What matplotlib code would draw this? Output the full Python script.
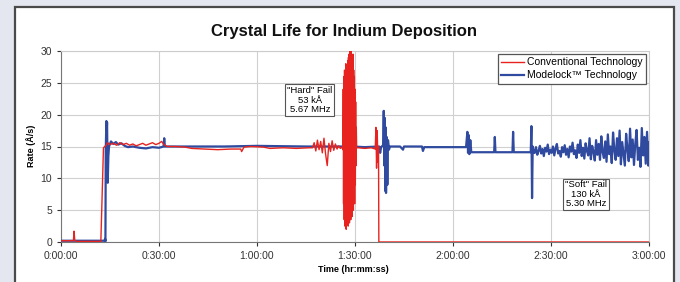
import matplotlib
matplotlib.use('Agg')
import matplotlib.pyplot as plt
from matplotlib.patches import Rectangle
from matplotlib.ticker import FuncFormatter

plt.rcParams['font.family'] = ['Liberation Sans', 'DejaVu Sans']

# time in minutes, rate in A/s
red_t = [0, 3.8, 4.0, 4.2, 4.6, 12.2, 13.0, 13.8, 14.3, 15.0, 16.0, 17.0, 18.0, 19.0,
         20.0, 21.0, 22.0, 23.0, 24.0, 25.0, 26.0, 27.0, 28.0, 29.0, 30.0, 30.8, 31.5,
         32.5, 35, 38, 40, 44, 48, 52, 55, 55.3, 56, 58, 62, 64, 68, 72, 76,
         77.0, 77.5, 78.0, 78.5, 79.0, 79.5, 80.0, 80.5, 81.0, 81.5, 82.0, 82.5, 83.0,
         83.5, 84.0, 84.5, 85.0, 85.5, 86.0,
         86.3, 86.4, 86.5, 86.6, 86.7, 86.8, 86.9, 87.0, 87.1, 87.2, 87.3, 87.4, 87.5,
         87.6, 87.7, 87.8, 87.9, 88.0, 88.1, 88.2, 88.3, 88.4, 88.5, 88.6, 88.7, 88.8,
         88.9, 89.0, 89.1, 89.2, 89.3, 89.4, 89.5, 89.6, 89.7, 89.8, 89.9, 90.0, 90.1,
         90.2, 90.3, 90.4, 90.5,
         91, 93, 95, 96.2, 96.4, 96.6, 96.8, 97.0, 97.2, 97.3, 180]
red_v = [0.2, 0.2, 1.7, 0.3, 0.1, 0.1, 14.8, 15.2, 15.6, 15.3, 15.5, 15.2, 15.6, 15.3,
         15.5, 15.2, 15.4, 15.1, 15.3, 15.5, 15.2, 15.4, 15.6, 15.3, 15.5, 15.8, 15.3,
         15.0, 15.0, 14.9, 14.7, 14.6, 14.5, 14.6, 14.6, 14.2, 14.9, 15.0, 14.9, 14.7, 14.8, 14.7, 14.8,
         14.8, 15.6, 14.3, 16.0, 14.5, 15.8, 14.0, 16.3, 13.8, 12.0, 15.5, 14.2, 15.9,
         14.4, 15.4, 14.6, 15.1, 14.7, 14.9,
         14.5, 24, 6, 26, 3.5, 27, 2.5, 25, 4, 28, 2.0, 26, 5,
         27.5, 3, 28.5, 2.5, 29, 4.5, 29.5, 3, 30, 5, 29.8, 3.5, 30,
         6, 29, 4, 28, 7, 29.5, 5, 27, 8, 26, 6, 24, 9,
         22, 12, 18, 14.8,
         14.8, 14.7, 14.8, 14.6, 18.0, 11.6, 17.5, 12.5, 15.0, 0.0, 0.0]

blue_t = [0, 13.3, 13.5, 13.6, 13.7, 13.9, 14.0, 14.1, 14.2, 14.3, 14.5, 14.7, 15.3,
          16.0, 16.8, 17.5, 18.5, 19.5, 20.5, 22, 24, 26, 28, 30, 31.4, 31.6, 31.8,
          35, 50, 60, 75, 88.3, 88.5, 88.7, 89, 93, 97.4, 97.7, 98.0, 98.6, 98.8,
          99.0, 99.1, 99.3, 99.4, 99.5, 99.7, 99.9, 100.1, 100.4, 100.7, 103.8, 104.7,
          105.0, 110.5, 110.8, 111.2, 118, 124.0, 124.4, 124.6, 124.8, 125.0, 125.3,
          125.6, 132.6, 132.8, 133.0, 138.2, 138.4, 138.6, 143.8, 144.0, 144.2, 144.4,
          144.7,
          145.0, 145.4, 145.8, 146.2, 146.6, 147.0, 147.4, 147.8, 148.2, 148.6,
          149.0, 149.4, 149.8, 150.2, 150.6, 151.0, 151.4, 151.8, 152.2, 152.6,
          153.0, 153.4, 153.8, 154.2, 154.6, 155.0, 155.4, 155.8, 156.2, 156.6,
          157.0, 157.4, 157.8, 158.2, 158.6, 159.0, 159.4, 159.8, 160.2, 160.6,
          161.0, 161.4, 161.8, 162.2, 162.6, 163.0, 163.4, 163.8, 164.2, 164.6,
          165.0, 165.4, 165.8, 166.2, 166.6, 167.0, 167.4, 167.8, 168.2, 168.6,
          169.0, 169.4, 169.8, 170.2, 170.6, 171.0, 171.4, 171.8, 172.2, 172.6,
          173.0, 173.4, 173.8, 174.2, 174.6, 175.0, 175.4, 175.8, 176.2, 176.6,
          177.0, 177.4, 177.8, 178.2, 178.6, 179.0, 179.4, 179.8, 180.0]
blue_v = [0.2, 0.2, 0.5, 0.1, 14.5, 19.0, 17.5, 18.8, 14.0, 9.3, 13.5, 15.0, 15.8,
          15.4, 15.7, 15.3, 15.5, 15.1, 14.9, 15.0, 14.8, 14.7, 14.9, 14.8, 15.0, 16.3, 15.0,
          15.0, 15.0, 15.1, 15.0, 15.0, 14.3, 15.2, 15.0, 14.9, 15.0, 14.0, 14.9, 15.2, 20.6,
          12.0, 19.5, 8.0, 18.0, 7.7, 16.5, 9.0, 16.0, 14.5, 15.0, 15.0, 14.5,
          15.0, 15.0, 14.3, 14.9, 14.9, 14.9, 17.3, 14.0, 16.8, 13.8, 16.0,
          14.1, 14.1, 16.5, 14.1, 14.1, 17.3, 14.1, 14.1, 18.2, 6.9, 15.0,
          14.0,
          14.0, 14.9, 13.7, 14.3, 15.1, 13.9, 14.6, 13.5, 14.8, 14.2,
          15.3, 13.8, 14.5, 14.0, 15.0, 13.6, 14.7, 15.4, 13.9, 14.3,
          13.4, 14.9, 14.1, 15.2, 13.7, 14.6, 13.3, 15.0, 14.2, 15.6,
          13.8, 14.4, 13.2, 15.3, 14.0, 16.0, 13.5, 14.8, 13.1, 15.5,
          14.3, 13.6, 16.3, 13.0, 15.1, 14.2, 12.8, 16.0, 13.7, 15.4,
          12.9, 16.6, 14.1, 13.2, 15.8, 12.6, 16.9, 13.8, 15.0, 12.4,
          17.2, 14.4, 12.9, 16.3, 13.5, 17.5, 12.2, 15.7, 13.9, 12.0,
          17.0, 14.6, 12.7, 17.8, 13.3, 16.1, 12.1, 15.4, 17.6, 12.9,
          14.8, 11.8, 17.9, 13.6, 16.5, 12.3, 17.3, 12.0, 15.6]

x_ticks = [0, 30, 60, 90, 120, 150, 180]
y_ticks = [0, 5, 10, 15, 20, 25, 30]


def hms(m, pos=None):
    m = int(round(m))
    return '%d:%02d:00' % (m // 60, m % 60)


fig = plt.figure(figsize=(6.8, 2.82), dpi=100, facecolor='#e4e7ef')
fig.patches.append(Rectangle((15 / 680, -0.1), 659 / 680, 1.1 - 7 / 282,
                             transform=fig.transFigure, facecolor='white',
                             edgecolor='#4a4a4a', lw=1.6, zorder=-5))

ax = fig.add_axes([61 / 680, 1 - 242 / 282, 588 / 680, 191 / 282])
ax.set_zorder(2)
ax.set_facecolor('white')

ax.plot(blue_t, blue_v, color='#2f4a9f', lw=1.6, label='Modelock\u2122 Technology', zorder=3)
ax.plot(red_t, red_v, color='#e8231f', lw=1.0, label='Conventional Technology', zorder=4)

ax.set_xlim(0, 180)
ax.set_ylim(0, 30)
ax.set_xticks(x_ticks)
ax.set_yticks(y_ticks)
ax.xaxis.set_major_formatter(FuncFormatter(hms))
ax.tick_params(labelsize=7.5, colors='#333333', length=3, width=0.8)
ax.grid(True, color='#d0d0d0', lw=0.8)
for s in ['top', 'right']:
    ax.spines[s].set_color('#cccccc')
for s in ['left', 'bottom']:
    ax.spines[s].set_color('#777777')

h, l = ax.get_legend_handles_labels()
leg = ax.legend(h[::-1], l[::-1], loc='upper right', fontsize=7.5, fancybox=False,
                framealpha=1, edgecolor='#555555', borderaxespad=0.3,
                handlelength=2.2, handletextpad=0.3, borderpad=0.3, labelspacing=0.3)
leg.get_frame().set_linewidth(0.9)

ax.text(76.2, 22.3, '"Hard" Fail\n53 k\u00c5\n5.67 MHz', fontsize=6.8, ha='center', va='center',
        linespacing=1.05, zorder=6,
        bbox=dict(boxstyle='square,pad=0.2', facecolor='white', edgecolor='#555555', lw=0.8))
ax.text(160.7, 7.5, '"Soft" Fail\n130 k\u00c5\n5.30 MHz', fontsize=6.8, ha='center', va='center',
        linespacing=1.05, zorder=6,
        bbox=dict(boxstyle='square,pad=0.2', facecolor='white', edgecolor='#555555', lw=0.8))

fig.text(344 / 680, 1 - 32 / 282, 'Crystal Life for Indium Deposition', fontsize=12,
         fontweight='bold', ha='center', va='center', color='#111111')
fig.text(31 / 680, 1 - 146 / 282, 'Rate (\u00c5/s)', fontsize=6.5, fontweight='bold',
         rotation=90, ha='center', va='center')
fig.text(353 / 680, 1 - 270 / 282, 'Time (hr:mm:ss)', fontsize=6.5, fontweight='bold',
         ha='center', va='center')

fig.savefig('out.png', dpi=100, facecolor=fig.get_facecolor())
